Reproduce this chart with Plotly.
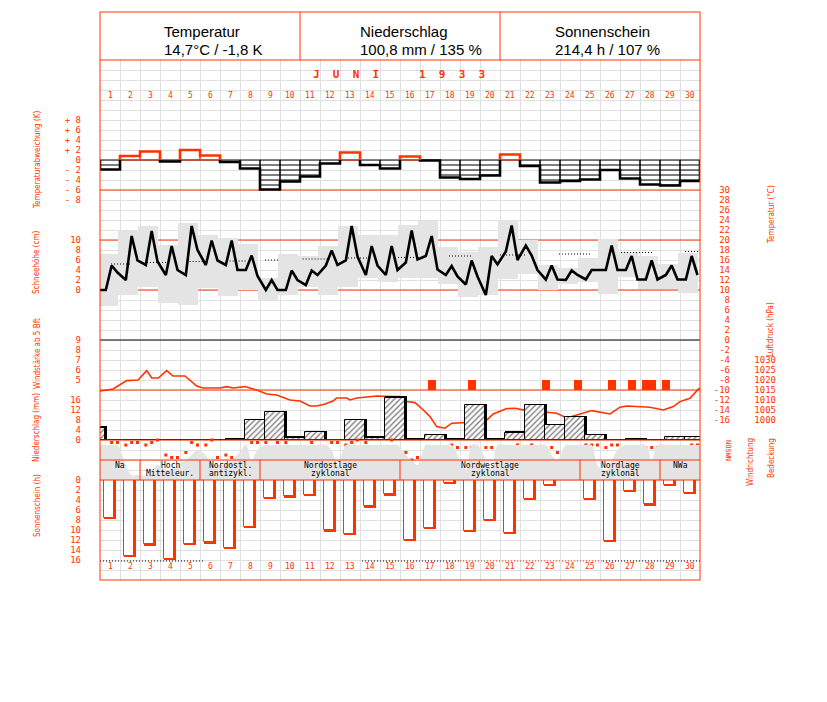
import plotly.graph_objects as go

OFF = 8                      # page body margin of the html page
W, H = 827 - OFF, 702 - OFF
RED = "#ff3300"
GRID = "#e0e0e0"
FILL = "#e4e4e4"
MONO = "DejaVu Sans Mono, Liberation Mono, monospace"
NARROW = "Liberation Sans Narrow, DejaVu Sans Condensed, Liberation Sans, Arial"
SANS = "Liberation Sans, Arial, sans-serif"

# ---------------- data ----------------
days = list(range(1, 31))
term_hours = [7, 14, 21]

header_titles = ["Temperatur", "Niederschlag", "Sonnenschein"]
header_values = ["14,7°C / -1,8 K", "100,8 mm / 135 %", "214,4 h / 107 %"]

# daily temperature deviation (K)
temp_dev = [-1.9, 0.8, 1.7, -0.3, 2.0, 0.9, -0.4, -1.7, -5.9, -4.3,
            -3.3, -0.7, 1.5, -1.0, -1.7, 0.7, -0.1, -3.5, -3.8, -3.1,
            1.1, -1.2, -4.5, -4.2, -3.9, -2.0, -3.7, -4.9, -5.1, -4.2]

# snow depth (cm) - none in June
snow_cm = [0, 0, 0, 0, 0, 0, 0, 0, 0, 0, 0, 0, 0, 0, 0,
           0, 0, 0, 0, 0, 0, 0, 0, 0, 0, 0, 0, 0, 0, 0]

# term temperatures (°C)
temp_prev_21h = 10.0
temp_7h = [10.0, 12.0, 15.0, 13.0, 13.0, 15.0, 15.0, 14.0, 10.0, 10.0,
           11.0, 14.9, 15.9, 13.0, 13.0, 15.5, 16.8, 13.0, 11.1, 9.0,
           17.7, 18.9, 12.1, 12.0, 12.1, 14.0, 14.0, 12.1, 13.0, 12.1]
temp_14h = [14.9, 20.8, 21.8, 18.8, 22.8, 19.9, 19.9, 16.9, 12.0, 13.9,
            13.9, 17.9, 22.8, 18.8, 18.8, 21.9, 20.8, 14.8, 15.9, 16.8,
            22.9, 16.9, 14.9, 13.9, 14.0, 18.9, 16.8, 15.9, 14.9, 16.8]
temp_21h = [13.5, 15.9, 15.7, 14.0, 18.0, 15.9, 14.0, 12.8, 10.0, 12.0,
            13.0, 15.0, 16.7, 14.9, 14.0, 16.1, 14.1, 12.7, 12.7, 15.1,
            16.0, 14.0, 12.1, 13.0, 14.0, 14.0, 12.1, 12.1, 12.1, 13.0]

# daily max / min temperature (°C), 21h to 21h
tmax = [17.3, 21.9, 22.8, 19.0, 23.5, 21.0, 20.5, 19.2, 12.5, 17.3,
        16.9, 18.8, 22.8, 21.0, 21.0, 23.0, 23.9, 18.7, 17.7, 18.7,
        24.1, 20.0, 15.0, 14.5, 16.5, 20.3, 17.7, 16.8, 15.3, 17.5]
tmin = [6.8, 9.1, 10.7, 7.5, 7.0, 10.5, 8.8, 10.0, 8.0, 9.1,
        10.7, 9.1, 10.7, 12.5, 11.7, 12.5, 12.5, 11.3, 8.7, 9.0,
        12.3, 13.3, 10.0, 11.2, 11.7, 9.3, 12.7, 10.3, 10.3, 9.5]

# long-term mean temperature, visible dotted pieces (day units)
normal_start = [1.05, 2.85, 4.83, 6.83, 8.75, 10.63, 12.9, 15.4, 17.95, 20.5, 23.45, 26.55, 29.75]
normal_end = [2.1, 3.85, 5.83, 7.83, 9.5, 12.0, 13.9, 16.35, 19.1, 21.85, 25.0, 28.1, 30.5]
normal_temp = [15.2, 15.5, 15.7, 15.8, 16.0, 16.2, 16.4, 16.5, 16.8, 17.0, 17.2, 17.5, 17.7]

# wind force >= 5 Bft observations
wind_days = [17, 19, 23, 24, 26, 27, 28, 28, 29]
wind_hours = [14, 14, 7, 21, 14, 14, 7, 14, 7]
wind_bft = [5, 5, 5, 5, 5, 5, 5, 5, 5]

# air pressure (hPa) along the month (time in day units)
pres_time = [0.5, 1.15, 1.835, 2.4, 2.835, 3.085, 3.415, 3.835, 4.15, 4.75,
             5.335, 5.65, 6.5, 6.835, 7.15, 7.75, 8.335, 8.835, 9.335, 9.585,
             10.0, 10.5, 11.0, 11.335, 11.75, 12.15, 12.335, 12.835, 13.0, 13.335,
             14.335, 15.15, 15.5, 15.835, 16.25, 16.665, 17.0, 17.335, 17.75, 18.085,
             18.75, 19.335, 19.75, 20.165, 20.835, 21.25, 21.835, 22.335, 22.835, 23.335,
             23.835, 24.335, 25.085, 26.0, 26.5, 26.835, 27.5, 28.0, 28.665, 29.165,
             29.5, 30.0, 30.415, 30.5]
pres_hpa = [1014.5, 1015.5, 1019.7, 1020.0, 1024.7, 1021.0, 1021.0, 1024.7, 1022.0, 1022.0,
            1017.0, 1016.0, 1016.0, 1016.7, 1016.0, 1016.7, 1015.0, 1013.0, 1012.5, 1011.7,
            1010.0, 1009.5, 1007.0, 1007.0, 1008.0, 1009.5, 1011.0, 1011.0, 1010.0, 1011.0,
            1012.0, 1011.7, 1011.7, 1009.2, 1008.7, 1005.0, 1001.7, 996.7, 995.9, 998.4,
            998.7, 998.9, 999.2, 1003.0, 1005.7, 1005.9, 1004.7, 1002.5, 1003.9, 1003.4,
            1001.0, 1002.5, 1004.7, 1003.0, 1006.4, 1007.0, 1006.7, 1006.4, 1005.0, 1006.7,
            1009.2, 1010.9, 1015.4, 1016.0]

# precipitation (mm), 7h of the day to 7h of the next day; day 0 = 31 May
precip_days = list(range(0, 31))
precip_mm = [4.9, 0, 0, 0, 0, 0, 0, 0.1, 8.0, 11.1,
             0.9, 3.1, 0, 8.0, 0.9, 16.9, 0.1, 2.0, 0.1, 14.0,
             0.1, 2.9, 14.0, 6.0, 9.1, 2.0, 0, 0.1, 0, 1.2, 1.2]

# wind direction (degrees, 0/360 = N) at 7h, 14h, 21h
wdir_7h = [135, 90, 90, 270, 225, 90, 270, 315, 45, 45, 135, 135, 90, 45, 135,
           225, 225, 135, 135, 135, 225, 225, 135, 180, 90, 135, 135, 135, 135, 180]
wdir_14h = [45, 45, 45, 315, 45, 0, 315, 45, 315, 135, 45, 45, 45, 360, 0,
            360, 225, 90, 135, 135, 315, 90, 135, 135, 90, 90, 135, 135, 135, 90]
wdir_21h = [45, 45, 0, 315, 90, 315, 315, 45, 45, 135, 135, 45, 0, 360, 270,
            315, 135, 135, 135, 225, 90, 135, 225, 135, 90, 90, 135, 135, 135, 90]

# cloud cover (octas) at 7h, 14h, 21h
cloud_7h = [7, 3, 1, 2, 4, 5, 3, 7, 7, 7, 7, 7, 7, 7, 7,
            5, 7, 7, 2, 4, 7, 7, 7, 7, 7, 2, 7, 7, 7, 7]
cloud_14h = [7, 1, 2, 2, 5, 3, 4, 4, 7, 7, 7, 6, 7, 7, 7,
             4, 7, 7, 7, 2, 7, 7, 5, 7, 7, 4, 7, 4, 7, 7]
cloud_21h = [7, 1, 3, 3, 6, 3, 5, 6, 7, 7, 7, 3, 7, 7, 7,
             3, 7, 5, 7, 7, 7, 7, 4, 7, 3, 6, 7, 7, 7, 7]

# Großwetterlagen
wl_line1 = ["Na", "Hoch", "Nordostl.", "Nordostlage", "Nordwestlage", "Nordlage", "NWa"]
wl_line2 = ["", "Mitteleur.", "antizykl.", "zyklonal", "zyklonal", "zyklonal", ""]
wl_start = [1, 3, 6, 9, 16, 25, 29]
wl_end = [2, 5, 8, 15, 24, 28, 30]

# sunshine duration (h)
sun_h = [7.5, 15.1, 12.8, 15.7, 12.7, 12.4, 13.5, 9.3, 3.5, 3.2,
         2.9, 10.0, 10.7, 5.2, 2.8, 11.9, 9.5, 0.5, 10.1, 7.9,
         10.5, 3.7, 0.9, 0.0, 3.7, 12.1, 2.1, 4.8, 0.9, 2.5]
# possible sunshine reference line (dotted pieces)
sunmax_h = 16.2
sunmax_start = [0.5, 13.6, 18.5, 25.65]
sunmax_end = [5.75, 18.5, 25.65, 30.5]
sunmax_color = ["black", "black", RED, "black"]

# axis tick labels
dev_ticks = [8, 6, 4, 2, 0, -2, -4, -6, -8]
dev_text = ["+ 8", "+ 6", "+ 4", "+ 2", "0", "- 2", "- 4", "- 6", "- 8"]
snow_ticks = [0, 2, 4, 6, 8, 10]
temp_ticks = list(range(30, -17, -2))
pres_ticks = [1030, 1025, 1020, 1015, 1010, 1005, 1000]
bft_ticks = [5, 6, 7, 8, 9]
precip_ticks = [0, 4, 8, 12, 16]
sun_ticks = [0, 2, 4, 6, 8, 10, 12, 14, 16]

# ---------------- figure ----------------
fig = go.Figure()
DOT = "1px,2px"


def tx(day, hour):
    return day - 0.5 + hour / 24.0


def hline(axis, value, color, width=1, x0=0.5, x1=30.5, dash=None):
    fig.add_trace(go.Scatter(x=[x0, x1], y=[value, value], mode="lines", yaxis=axis,
                             line=dict(color=color, width=width, dash=dash),
                             hoverinfo="skip", showlegend=False))


# base axis: zero line of the temperature deviation
hline("y", 0, "black")

# cloud cover area
c_t, c_v = [], []
for i, d in enumerate(days):
    for h, arr in zip(term_hours, (cloud_7h, cloud_14h, cloud_21h)):
        c_t.append(tx(d, h))
        c_v.append(arr[i])
c_t = [0.3] + c_t + [30.7]
c_v = [cloud_7h[0]] + c_v + [cloud_21h[-1]]
fig.add_trace(go.Scatter(x=c_t, y=c_v, yaxis="y9", mode="lines", fill="tozeroy",
                         fillcolor=FILL, line=dict(color=FILL, width=0, shape="spline", smoothing=1.0),
                         hoverinfo="skip", showlegend=False))

# temperature max/min boxes
fig.add_trace(go.Bar(x=[d - 0.125 for d in days], y=[a - b for a, b in zip(tmax, tmin)], base=tmin,
                     width=1.0, yaxis="y3", marker=dict(color=FILL, line=dict(width=0)),
                     hoverinfo="skip", showlegend=False))

# reference lines
hline("y3", 30, RED)
hline("y2", 10, RED)
hline("y3", 0, "black")
hline("y4", 1015, RED)
hline("y6", 0, RED)
hline("y9", 4, RED)
hline("y9", 0, RED)
# snow depth (zero all month) sits on the red 0 cm line
fig.add_trace(go.Scatter(x=[d - 0.5 for d in days] + [30.5], y=snow_cm + [snow_cm[-1]], yaxis="y2",
                         mode="lines", line=dict(color=RED, width=1, shape="hv"),
                         hoverinfo="skip", showlegend=False))

# normal temperature dotted pieces
nx, ny = [], []
for a, b, v in zip(normal_start, normal_end, normal_temp):
    nx += [a, b, None]
    ny += [v, v, None]
fig.add_trace(go.Scatter(x=nx, y=ny, yaxis="y3", mode="lines",
                         line=dict(color="black", width=1, dash=DOT),
                         hoverinfo="skip", showlegend=False))

# temperature line
t_t = [tx(0, 21)]
t_v = [temp_prev_21h]
for i, d in enumerate(days):
    for h, arr in zip(term_hours, (temp_7h, temp_14h, temp_21h)):
        t_t.append(tx(d, h))
        t_v.append(arr[i])
fig.add_trace(go.Scatter(x=t_t, y=t_v, yaxis="y3", mode="lines",
                         line=dict(color="black", width=2.6),
                         hoverinfo="skip", showlegend=False))

# temperature deviation: thin box outlines and hatching
pos_x, pos_y, neg_x, neg_y = [], [], [], []
for d, v in zip(days, temp_dev):
    if v > 0:
        pos_x += [d - 0.5, d - 0.5, d + 0.5, d + 0.5, None]
        pos_y += [v, 0, 0, v, None]
    elif v < 0:
        neg_x += [d - 0.5, d - 0.5, None, d + 0.5, d + 0.5, None]
        neg_y += [0, v, None, 0, v, None]
        k = -1
        while k > v:
            neg_x += [d - 0.5, d + 0.5, None]
            neg_y += [k, k, None]
            k -= 1
fig.add_trace(go.Scatter(x=neg_x, y=neg_y, yaxis="y10", mode="lines", line=dict(color="black", width=1),
                         hoverinfo="skip", showlegend=False))
fig.add_trace(go.Scatter(x=pos_x, y=pos_y, yaxis="y10", mode="lines", line=dict(color=RED, width=1),
                         hoverinfo="skip", showlegend=False))


def dev_runs(positive):
    xs, ys = [], []
    i, n = 0, len(temp_dev)
    while i < n:
        if (temp_dev[i] > 0) == positive and temp_dev[i] != 0:
            j = i
            while j + 1 < n and (temp_dev[j + 1] > 0) == positive and temp_dev[j + 1] != 0:
                j += 1
            xs.append(days[i] - 0.5); ys.append(0)
            for k in range(i, j + 1):
                xs.append(days[k] - 0.5); ys.append(temp_dev[k])
            xs.append(days[j] + 0.5); ys.append(temp_dev[j])
            xs.append(days[j] + 0.5); ys.append(0)
            xs.append(None); ys.append(None)
            i = j + 1
        else:
            i += 1
    return xs, ys


bx, by = dev_runs(False)
fig.add_trace(go.Scatter(x=bx, y=by, yaxis="y10", mode="lines",
                         line=dict(color="black", width=2.6, shape="hv"),
                         hoverinfo="skip", showlegend=False))
rx, ry = dev_runs(True)
fig.add_trace(go.Scatter(x=rx, y=ry, yaxis="y10", mode="lines",
                         line=dict(color=RED, width=2.6, shape="hv"),
                         hoverinfo="skip", showlegend=False))

# wind force squares
fig.add_trace(go.Bar(x=[tx(d, h) for d, h in zip(wind_days, wind_hours)],
                     y=[b - 4 for b in wind_bft], base=[4] * len(wind_bft), width=0.4,
                     yaxis="y5", marker=dict(color=RED, line=dict(width=0)),
                     hoverinfo="skip", showlegend=False))

# pressure line
fig.add_trace(go.Scatter(x=pres_time, y=pres_hpa, yaxis="y4", mode="lines",
                         line=dict(color=RED, width=1.6), hoverinfo="skip", showlegend=False))

# precipitation bars with shadow
pc = [d + 0.25 for d in precip_days]
fig.add_trace(go.Bar(x=[c + 0.05 for c in pc], y=[v + 0.6 if v > 0 else 0 for v in precip_mm],
                     width=1.1, yaxis="y6", marker=dict(color="black", line=dict(width=0)),
                     hoverinfo="skip", showlegend=False))
fig.add_trace(go.Bar(x=pc, y=precip_mm, width=1.0, yaxis="y6",
                     marker=dict(color="white", line=dict(color="black", width=1),
                                 pattern=dict(shape="/", fgcolor="black", bgcolor="white",
                                              size=4, solidity=0.35)),
                     hoverinfo="skip", showlegend=False))

# wind direction dots
w_t, w_v = [], []
for i, d in enumerate(days):
    for h, arr in zip(term_hours, (wdir_7h, wdir_14h, wdir_21h)):
        w_t.append(tx(d, h))
        w_v.append(arr[i])
fig.add_trace(go.Scatter(x=w_t, y=w_v, yaxis="y8", mode="markers",
                         marker=dict(symbol="square", size=3, color=RED, line=dict(width=0)),
                         hoverinfo="skip", showlegend=False))

# weather type band dividers
for s in wl_start[1:]:
    fig.add_trace(go.Scatter(x=[s - 0.5, s - 0.5], y=[0, 4], yaxis="y9", mode="lines",
                             line=dict(color=RED, width=1), hoverinfo="skip", showlegend=False))

# sunshine bars with shadow
fig.add_trace(go.Bar(x=[d + 0.01 for d in days], y=[h + 0.35 if h > 0 else 0 for h in sun_h],
                     width=0.58, yaxis="y7", marker=dict(color=RED, line=dict(width=0)),
                     hoverinfo="skip", showlegend=False))
fig.add_trace(go.Bar(x=[d - 0.05 for d in days], y=sun_h, width=0.46, yaxis="y7",
                     marker=dict(color="white", line=dict(color=RED, width=1)),
                     hoverinfo="skip", showlegend=False))
for a, b, col in zip(sunmax_start, sunmax_end, sunmax_color):
    hline("y7", sunmax_h, col, width=1, x0=a, x1=b, dash=DOT)


# ---------------- axes ----------------
def PX(x):
    return (x - OFF) / W


def PY(y):
    return (580 - y) / 520.0


def rng(zero_px, ppu, zero_val=0.0):
    return [zero_val + (zero_px - 580) / ppu, zero_val + (zero_px - 60) / ppu]


lab_font = dict(family=MONO, size=9, color=RED)


def label_axis(r, tickvals, ticktext, pos):
    return dict(range=r, overlaying="y", anchor="free", position=pos, side="left",
                showgrid=False, zeroline=False, showline=False, ticks="",
                tickvals=tickvals, ticktext=ticktext, tickfont=lab_font, fixedrange=True)


def hidden_axis(r):
    return dict(range=r, overlaying="y", showgrid=False, zeroline=False, showline=False,
                showticklabels=False, ticks="", fixedrange=True)


LEFT = PX(81)
fig.update_layout(
    width=W, height=H, autosize=False,
    margin=dict(l=0, r=0, t=60 - OFF, b=H - (580 - OFF), pad=0),
    paper_bgcolor="white", plot_bgcolor="white",
    showlegend=False, barmode="overlay", bargap=0, hovermode=False,
    xaxis=dict(domain=[PX(100), PX(700)], range=[0.5, 30.5], tickmode="array",
               tickvals=[d - 0.5 for d in days] + [30.5], showticklabels=False, ticks="",
               showgrid=True, gridcolor=GRID, gridwidth=1, zeroline=False, showline=False,
               fixedrange=True),
    yaxis=dict(range=rng(160, 5), tickmode="linear", tick0=0, dtick=2, showticklabels=False,
               ticks="", showgrid=True, gridcolor=GRID, gridwidth=1, zeroline=False,
               showline=False, fixedrange=True),
    yaxis2=label_axis(rng(290, 5), snow_ticks, [str(v) for v in snow_ticks], LEFT),
    yaxis3=label_axis(rng(290, 5, 10), temp_ticks, [str(v) for v in temp_ticks], PX(730)),
    yaxis4=label_axis(rng(390, 2, 1015), pres_ticks, [str(v) for v in pres_ticks], PX(776)),
    yaxis5=label_axis(rng(380, 10, 5), bft_ticks, [str(v) for v in bft_ticks], LEFT),
    yaxis6=label_axis(rng(440, 2.5), precip_ticks, [str(v) for v in precip_ticks], LEFT),
    yaxis7=label_axis(rng(480, -5), sun_ticks, [str(v) for v in sun_ticks], LEFT),
    yaxis8=hidden_axis(rng(440, -1 / 18.0)),
    yaxis9=hidden_axis(rng(480, 5)),
    yaxis10=label_axis(rng(160, 5), dev_ticks, dev_text, LEFT),
)

shapes = [
    dict(type="rect", xref="paper", yref="paper", x0=PX(100), x1=PX(700), y0=PY(580), y1=PY(12),
         line=dict(color=RED, width=1), layer="above"),
    dict(type="line", xref="paper", yref="paper", x0=PX(100), x1=PX(700), y0=PY(60), y1=PY(60),
         line=dict(color=RED, width=1), layer="above"),
    dict(type="line", xref="paper", yref="paper", x0=PX(300), x1=PX(300), y0=PY(60), y1=PY(12),
         line=dict(color=RED, width=1), layer="above"),
    dict(type="line", xref="paper", yref="paper", x0=PX(500), x1=PX(500), y0=PY(60), y1=PY(12),
         line=dict(color=RED, width=1), layer="above"),
]
fig.update_layout(shapes=shapes)

ann = []
head_left = [162, 358, 553]
for t, v, xl in zip(header_titles, header_values, head_left):
    ann.append(dict(text=t, x=PX(xl), y=PY(32), xref="paper", yref="paper", showarrow=False,
                    xanchor="left", yanchor="middle", font=dict(family=SANS, size=15, color="black")))
    ann.append(dict(text=v, x=PX(xl), y=PY(49), xref="paper", yref="paper", showarrow=False,
                    xanchor="left", yanchor="middle", font=dict(family=SANS, size=15, color="black")))

ann.append(dict(text="J\u00a0\u00a0U\u00a0\u00a0N\u00a0\u00a0I\u00a0\u00a0\u00a0\u00a0\u00a0\u00a01\u00a0\u00a09\u00a0\u00a03\u00a0\u00a03",
                x=PX(399), y=PY(74), xref="paper", yref="paper", showarrow=False,
                xanchor="center", yanchor="middle", font=dict(family=MONO, size=11, color=RED, weight="bold")))

for d in days:
    for yy in (96, 566):
        ann.append(dict(text=str(d), x=d, y=PY(yy), xref="x", yref="paper", showarrow=False,
                        xanchor="center", yanchor="middle", font=dict(family=MONO, size=8, color=RED)))

titles = [
    ("Temperaturabweichung (K)", 37, 160, -90),
    ("Schneehöhe (cm)", 37, 262, -90),
    ("Windstärke ab 5 Bft", 37, 354, -90),
    ("Niederschlag (mm)", 37, 428, -90),
    ("Sonnenschein (h)", 37, 506, -90),
    ("Temperatur (°C)", 771, 215, -90),
    ("Luftdruck (hPa)", 771, 330, -90),
    ("Windrichtung", 750, 462, -90),
    ("Bedeckung", 771, 458, -90),
]
for t, xx, yy, ang in titles:
    ann.append(dict(text=t, x=PX(xx), y=PY(yy), xref="paper", yref="paper", showarrow=False,
                    textangle=ang, xanchor="center", yanchor="middle",
                    font=dict(family=NARROW, size=8, color=RED)))
ann.append(dict(text="NOSWN", x=PX(728), y=PY(450), xref="paper", yref="paper", showarrow=False,
                textangle=90, xanchor="center", yanchor="middle",
                font=dict(family=MONO, size=7, color=RED)))

for l1, l2, s, e in zip(wl_line1, wl_line2, wl_start, wl_end):
    c = (s + e) / 2.0
    ann.append(dict(text=l1, x=c, y=2.9, xref="x", yref="y9", showarrow=False,
                    xanchor="center", yanchor="middle", font=dict(family=MONO, size=8, color="black")))
    if l2:
        ann.append(dict(text=l2, x=c, y=1.4, xref="x", yref="y9", showarrow=False,
                        xanchor="center", yanchor="middle", font=dict(family=MONO, size=8, color="black")))

fig.update_layout(annotations=ann)
fig.write_html("out.html")
